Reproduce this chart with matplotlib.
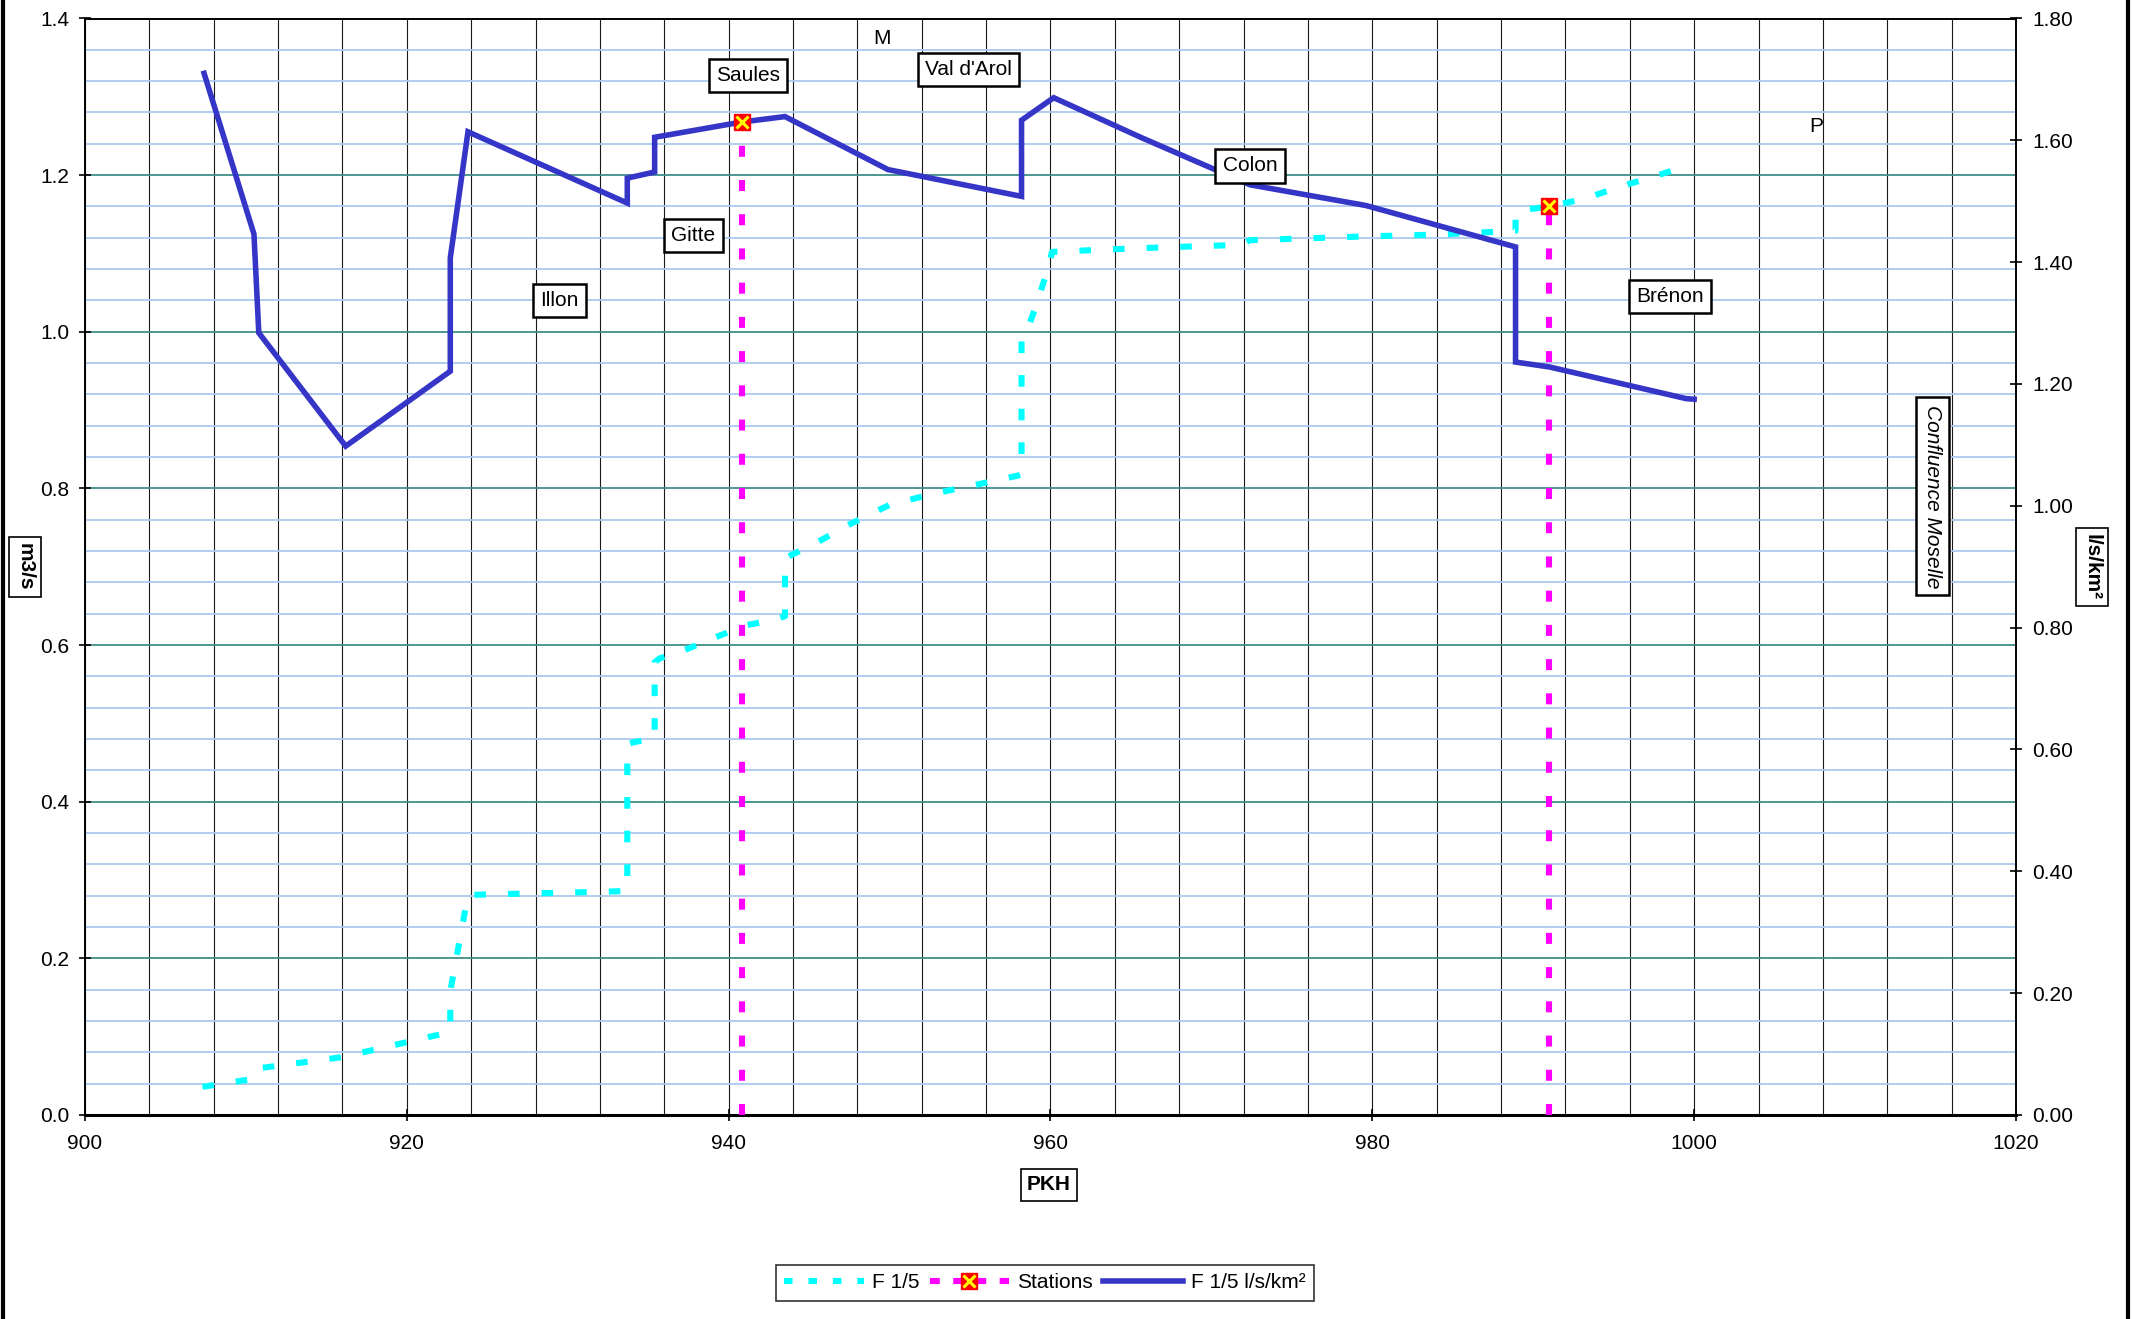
import numpy as np
import matplotlib
matplotlib.use("Agg")
from matplotlib import pyplot as plt
from matplotlib.lines import Line2D
from matplotlib.ticker import MultipleLocator, FormatStrFormatter

plt.rcParams['font.family'] = ['Liberation Sans', 'DejaVu Sans']

# F 1/5 (m3/s), left axis
q_pkh = [907.3, 909.8, 910.5, 910.9, 911.3, 916.0, 920.2, 922.7, 922.7, 923.8,
         932.1, 933.7, 933.7, 934.1, 935.4, 935.4, 935.7, 937.3, 939.2, 941.0,
         943.0, 943.5, 943.5, 943.8, 945.4, 947.3, 948.8, 950.0, 951.9, 953.8,
         955.9, 957.9, 958.2, 958.2, 958.5, 959.1, 959.8, 960.1, 962.3, 965.9,
         971.8, 972.4, 980.0, 983.9, 988.0, 988.9, 988.9, 989.2, 991.0, 993.2,
         995.5, 997.5, 999.5, 999.8]
q_m3s = [0.036, 0.044, 0.046, 0.060, 0.061, 0.074, 0.094, 0.106, 0.158, 0.281,
         0.285, 0.286, 0.473, 0.476, 0.481, 0.578, 0.583, 0.594, 0.610, 0.625,
         0.633, 0.637, 0.711, 0.714, 0.730, 0.752, 0.767, 0.779, 0.789, 0.798,
         0.807, 0.816, 0.818, 0.992, 0.999, 1.033, 1.078, 1.102, 1.104, 1.107,
         1.111, 1.117, 1.122, 1.124, 1.128, 1.129, 1.152, 1.155, 1.160, 1.170,
         1.186, 1.198, 1.212, 1.215]

# F 1/5 l/s/km2, right axis
s_pkh = [907.4, 910.5, 910.8, 916.2, 922.7, 922.7, 923.8, 933.7, 933.7, 935.4,
         935.4, 940.8, 943.5, 949.9, 958.2, 958.2, 960.2, 965.6, 972.4, 979.6,
         988.9, 988.9, 991.0, 999.5, 1000.0]
s_lskm2 = [1.710, 1.446, 1.284, 1.098, 1.221, 1.407, 1.614, 1.497, 1.538, 1.548,
           1.605, 1.630, 1.639, 1.552, 1.508, 1.633, 1.670, 1.605, 1.527, 1.493,
           1.425, 1.236, 1.228, 1.176, 1.175]

# stations (left axis)
st_pkh = [940.8, 991.0]
st_top = [1.268, 1.160]

# place labels
lab_text = ["Saules", "Val d'Arol", "Gitte", "Illon", "Colon", "Brénon"]
lab_x = [941.2, 954.9, 937.8, 929.5, 972.4, 998.5]
lab_y = [1.327, 1.335, 1.123, 1.040, 1.212, 1.045]

FS = 15
W, H = 2134, 1319
fig = plt.figure(figsize=(W / 100, H / 100), dpi=100)
ax = fig.add_axes([85 / W, 1 - 1115 / H, (2016 - 85) / W, (1115 - 18.5) / H])
ax2 = ax.twinx()

ax.set_xlim(900, 1020)
ax.set_ylim(0, 1.4)
ax2.set_ylim(0, 1.8)

ax.xaxis.set_major_locator(MultipleLocator(20))
ax.xaxis.set_minor_locator(MultipleLocator(4))
ax.yaxis.set_major_locator(MultipleLocator(0.2))
ax.yaxis.set_minor_locator(MultipleLocator(0.04))
ax.yaxis.set_major_formatter(FormatStrFormatter('%.1f'))
ax2.yaxis.set_major_locator(MultipleLocator(0.2))
ax2.yaxis.set_major_formatter(FormatStrFormatter('%.2f'))

ax.grid(which='minor', axis='y', color='#a9c9ee', lw=1.3)
ax.grid(which='major', axis='y', color='#3f9088', lw=1.3)
ax.grid(which='both', axis='x', color='#1a1a1a', lw=0.8)
ax.set_axisbelow(True)

for a in (ax, ax2):
    a.tick_params(which='major', direction='inout', length=9, width=1.2, labelsize=FS, colors='black')
    a.tick_params(which='minor', length=0)
    for sp in a.spines.values():
        sp.set_color('black')
        sp.set_linewidth(1.2)
ax.spines['bottom'].set_linewidth(2.2)
ax.tick_params(axis='x', pad=9)
ax.tick_params(axis='y', pad=7)
ax2.tick_params(axis='y', pad=7)

# F 1/5 cyan dashed
l_q, = ax.plot(q_pkh, q_m3s, color='#00ffff', lw=4.4, dashes=(1.9, 3.6), zorder=3)

# F 1/5 l/s/km2
l_s, = ax2.plot(s_pkh, s_lskm2, color='#3535c8', lw=4.0, solid_joinstyle='miter', zorder=3)

# stations, drawn above the blue line
for px, top in zip(st_pkh, st_top):
    ax2.plot([px, px], [0, top], transform=ax.transData, color='#ff00ff', lw=4.4,
             dashes=(1.8, 3.8), zorder=4, clip_on=True)
    ax2.plot([px], [top], transform=ax.transData, marker='s', ms=11, mfc='#ff0000',
             mec='#ff0000', ls='none', zorder=5)
    ax2.plot([px], [top], transform=ax.transData, marker='x', ms=9, mew=2.2,
             color='#ffff00', ls='none', zorder=6)

box = dict(boxstyle='square,pad=0.35', fc='white', ec='black', lw=1.8)
for t, x, y in zip(lab_text, lab_x, lab_y):
    ax2.text(x, y, t, transform=ax.transData, ha='center', va='center', fontsize=FS,
             bbox=box, zorder=7)
ax2.text(949.5, 1.374, "M", transform=ax.transData, ha='center', va='center', fontsize=FS, zorder=7)
ax2.text(1007.6, 1.262, "P", transform=ax.transData, ha='center', va='center', fontsize=FS, zorder=7)
ax2.text(1014.8, 0.79, "Confluence Moselle", transform=ax.transData, ha='center', va='center',
         fontsize=FS, style='italic', rotation=270, bbox=box, zorder=7)

# axis titles in boxes
tbox = dict(boxstyle='square,pad=0.3', fc='white', ec='black', lw=1.2)
fig.text(25 / W, 1 - 567 / H, "m3/s", rotation=270, ha='center', va='center',
         fontsize=FS, fontweight='bold', bbox=tbox)
fig.text(2092 / W, 1 - 567 / H, "l/s/km²", rotation=270, ha='center', va='center',
         fontsize=FS, fontweight='bold', bbox=tbox)
fig.text(1049 / W, 1 - 1185 / H, "PKH", ha='center', va='center',
         fontsize=FS, fontweight='bold', bbox=tbox)

# legend
h_st = (Line2D([], [], color='#ff00ff', lw=4.4, dashes=(1.6, 2.2)),
        Line2D([], [], marker='s', ms=11, mfc='#ff0000', mec='#ff0000', ls='none'),
        Line2D([], [], marker='x', ms=9, mew=2.2, color='#ffff00', ls='none'))
h_q = Line2D([], [], color='#00ffff', lw=4.4, dashes=(1.4, 2.6))
leg = fig.legend([h_q, h_st, l_s], ["F 1/5", "Stations", "F 1/5 l/s/km²"], ncol=3,
                 loc='center', bbox_to_anchor=(1045 / W, 1 - 1283 / H), fontsize=FS,
                 frameon=True, fancybox=False, handlelength=3.8, handletextpad=0.4,
                 columnspacing=0.5, borderpad=0.4, numpoints=1)
leg.get_frame().set_edgecolor('black')
leg.get_frame().set_linewidth(1.2)

# outer frame edges
fig.add_artist(Line2D([2.5 / W, 2.5 / W], [0, 1], transform=fig.transFigure, color='black', lw=3))
fig.add_artist(Line2D([2128 / W, 2128 / W], [0, 1], transform=fig.transFigure, color='black', lw=3))

fig.savefig("out.png", dpi=100)
